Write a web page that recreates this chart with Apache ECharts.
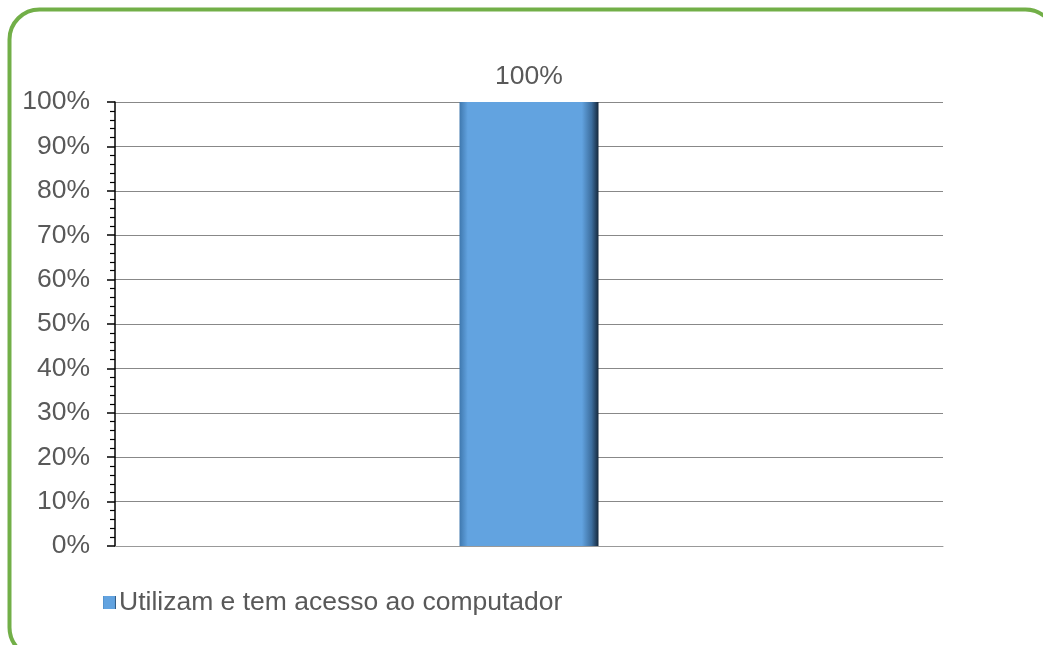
<!DOCTYPE html>
<html>
<head>
<meta charset="utf-8">
<script src="https://cdn.jsdelivr.net/npm/echarts@6/dist/echarts.min.js"></script>
<style>html,body{margin:0;padding:0;background:#fff;}#c{width:1043px;height:645px;}</style>
</head>
<body>
<div id="c"></div>
<script>
var categories = ['Utilizam e tem acesso ao computador'];
var seriesName = 'Utilizam e tem acesso ao computador';
var values = [100];
var yTicks = [0, 10, 20, 30, 40, 50, 60, 70, 80, 90, 100];

var chart = echarts.init(document.getElementById('c'), null, {renderer: 'canvas'});
var font = 'Liberation Sans, Arial, sans-serif';
var fs = 26.5;
chart.setOption({
  animation: false,
  backgroundColor: '#fff',
  graphic: [{
    type: 'rect',
    shape: {x: 9.5, y: 9.5, width: 1046, height: 648, r: 30},
    style: {fill: 'none', stroke: '#72AF48', lineWidth: 4},
    z: 10
  }],
  grid: {left: 115, right: 100, top: 102, bottom: 99},
  legend: {
    left: 98, top: 584,
    itemWidth: 13, itemHeight: 13, itemGap: 6,
    icon: 'rect',
    textStyle: {fontFamily: font, fontSize: fs, color: '#595959', padding: [0, 0, 0, -2]},
    data: [seriesName]
  },
  xAxis: {
    type: 'category',
    data: categories,
    axisLine: {lineStyle: {color: '#999', width: 1}},
    axisTick: {show: false},
    axisLabel: {show: false}
  },
  yAxis: {
    type: 'value',
    min: 0, max: 100, interval: 10,
    axisLine: {show: true, lineStyle: {color: '#000', width: 1.5}},
    axisTick: {show: true, inside: false, length: 8, lineStyle: {color: '#000', width: 1.5}},
    minorTick: {show: true, splitNumber: 5, length: 5, lineStyle: {color: '#000', width: 1.2}},
    splitLine: {show: true, lineStyle: {color: '#888', width: 1}},
    axisLabel: {
      margin: 25,
      fontFamily: font, fontSize: fs, color: '#595959',
      formatter: function (v) { return yTicks.indexOf(v) >= 0 ? v + '%' : ''; }
    }
  },
  series: [{
    name: seriesName,
    type: 'bar',
    data: values,
    barWidth: 139,
    itemStyle: {
      color: {
        type: 'linear', x: 0, y: 0, x2: 1, y2: 0,
        colorStops: [
          {offset: 0, color: '#3f78ae'},
          {offset: 0.06, color: '#62A3E0'},
          {offset: 0.88, color: '#62A3E0'},
          {offset: 0.95, color: '#3d6e9e'},
          {offset: 1, color: '#15283c'}
        ]
      },
      borderWidth: 0
    },
    label: {
      show: true, position: 'top', distance: 12,
      fontFamily: font, fontSize: fs, color: '#595959',
      formatter: function (p) { return p.value + '%'; }
    }
  }]
});
</script>
</body>
</html>
